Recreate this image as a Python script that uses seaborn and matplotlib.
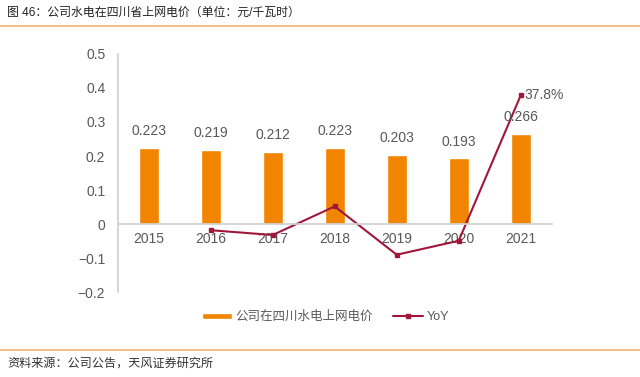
import matplotlib
matplotlib.use("Agg")
import matplotlib.pyplot as plt
import seaborn as sns
import pandas as pd

# data
years = ["2015", "2016", "2017", "2018", "2019", "2020", "2021"]
price = [0.223, 0.219, 0.212, 0.223, 0.203, 0.193, 0.266]
yoy_years = ["2016", "2017", "2018", "2019", "2020", "2021"]
yoy = [-0.018, -0.032, 0.052, -0.090, -0.049, 0.378]

sns.set_theme(style="white")
plt.rcParams["font.family"] = ["Liberation Sans", "Noto Sans CJK SC", "DejaVu Sans"]

bar_col = "#F28500"
line_col = "#A0173A"
txt_col = "#595959"

df = pd.DataFrame({"year": years, "price": price})

fig = plt.figure(figsize=(6.4, 3.77), dpi=100)
ax = fig.add_axes([0.184, 0.225, 0.678, 0.632])

sns.barplot(data=df, x="year", y="price", color=bar_col, width=0.32,
            saturation=1, ax=ax, label="公司在四川水电上网电价")

for i, v in enumerate(price):
    ax.annotate(f"{v:.3f}", (i, v), xytext=(0, 7), textcoords="offset points",
                ha="center", va="bottom", fontsize=10, color=txt_col)

xpos = [years.index(y) for y in yoy_years]
line, = ax.plot(xpos, yoy, color=line_col, lw=1.5, marker="s", ms=3.5, label="YoY")
ax.annotate(f"{yoy[-1]*100:.1f}%", (xpos[-1], yoy[-1]), xytext=(3, 0),
            textcoords="offset points", ha="left", va="center",
            fontsize=10, color=txt_col)

ax.set_ylim(-0.2, 0.5)
ax.set_yticks([-0.2, -0.1, 0, 0.1, 0.2, 0.3, 0.4, 0.5])
ax.set_yticklabels(["−0.2", "−0.1", "0", "0.1", "0.2", "0.3", "0.4", "0.5"])
ax.set_xlim(-0.5, 6.5)
ax.set_xlabel("")
ax.set_ylabel("")

for s in ["top", "right"]:
    ax.spines[s].set_visible(False)
ax.spines["left"].set_color("#D0D0D0")
ax.spines["bottom"].set_color("#D0D0D0")
ax.spines["bottom"].set_position(("data", 0))
ax.tick_params(axis="y", length=3, color="#D0D0D0", labelsize=10, labelcolor=txt_col, pad=6)
ax.tick_params(axis="x", length=0, labelsize=10, labelcolor=txt_col, pad=6)

handles, labels = ax.get_legend_handles_labels()
if ax.get_legend() is not None:
    ax.get_legend().remove()
order = [labels.index("公司在四川水电上网电价"), labels.index("YoY")]
leg = fig.legend([handles[i] for i in order], [labels[i] for i in order],
                 loc="center left", bbox_to_anchor=(0.315, 0.159), ncol=2, frameon=False,
                 fontsize=9, handlelength=2.4, columnspacing=1.6, handleheight=0.35,
                 handletextpad=0.3, borderaxespad=0, borderpad=0)
for t in leg.get_texts():
    t.set_color(txt_col)

fig.text(0.011, 0.965, "图 46：公司水电在四川省上网电价（单位：元/千瓦时）", fontsize=8.6,
         color="#222222", va="center", ha="left")
fig.add_artist(plt.Line2D([0, 1], [0.931, 0.931], color="#F0B070", lw=1.2))
fig.add_artist(plt.Line2D([0, 1], [0.072, 0.072], color="#F0B070", lw=1.2))
fig.text(0.011, 0.035, "资料来源：公司公告，天风证券研究所", fontsize=8.7,
         color="#333333", va="center", ha="left")

fig.savefig("out.png", dpi=100)
